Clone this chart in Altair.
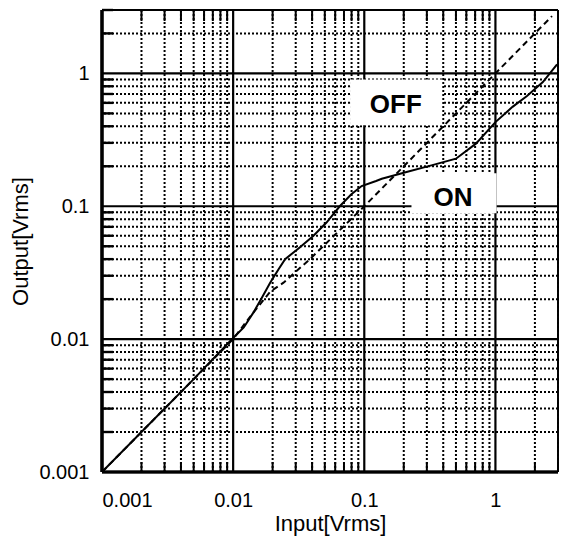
import altair as alt
import pandas as pd

# ---- data ----
on_x = [0.001, 0.002, 0.005, 0.01, 0.01205, 0.0143, 0.0166, 0.0192, 0.0222, 0.0249,
        0.0315, 0.0408, 0.0515, 0.065, 0.0797, 0.0955, 0.123, 0.136, 0.21, 0.325,
        0.5, 0.71, 1.0, 1.35, 1.74, 2.3, 2.95]
on_y = [0.001, 0.002, 0.005, 0.0102, 0.01225, 0.0159, 0.0206, 0.0267, 0.0336, 0.040,
        0.0481, 0.0598, 0.0754, 0.1, 0.123, 0.142, 0.155, 0.161, 0.181, 0.203,
        0.228, 0.296, 0.43, 0.56, 0.675, 0.86, 1.17]

off_x = [0.001, 0.01, 0.0135, 0.0192, 0.0242, 0.0385, 0.1, 1.0, 2.7]
off_y = [0.001, 0.01, 0.0148, 0.0228, 0.0266, 0.04, 0.1, 1.0, 2.7]

major_ticks = [0.001, 0.01, 0.1, 1]
minor_ticks = [0.002, 0.003, 0.004, 0.005, 0.006, 0.007, 0.008, 0.009,
               0.02, 0.03, 0.04, 0.05, 0.06, 0.07, 0.08, 0.09,
               0.2, 0.3, 0.4, 0.5, 0.6, 0.7, 0.8, 0.9,
               2, 3]

labels = ["OFF", "ON"]
label_x = [0.174, 0.475]
label_y = [0.575, 0.115]
box_x1 = [0.078, 0.229]
box_x2 = [0.392, 1.02]
box_y1 = [0.407, 0.0886]
box_y2 = [0.90, 0.177]

W, H = 456, 462
FONT = "Liberation Sans"

xs = alt.Scale(type="log", domain=[0.001, 3], nice=False)
ys = alt.Scale(type="log", domain=[0.001, 3], nice=False)

x_axis = alt.Axis(values=major_ticks, format="~g", ticks=False, domain=False, grid=False,
                  labelFontSize=20, labelFont=FONT, labelColor="black", labelPadding=18,
                  title="Input[Vrms]", titleFont=FONT, titleFontSize=22,
                  titleFontWeight="normal", titleColor="black", titlePadding=3)
y_axis = alt.Axis(values=major_ticks, format="~g", ticks=False, domain=False, grid=False,
                  labelFontSize=20, labelFont=FONT, labelColor="black", labelPadding=13,
                  title="Output[Vrms]", titleFont=FONT, titleFontSize=22,
                  titleFontWeight="normal", titleColor="black", titlePadding=6)


def X(field):
    return alt.X(field, scale=xs, axis=x_axis)


def Y(field):
    return alt.Y(field, scale=ys, axis=y_axis)


minor_df = pd.DataFrame({"v": minor_ticks})
major_df = pd.DataFrame({"v": major_ticks})

dot = dict(color="black", strokeWidth=2, strokeDash=[2, 2])
grid_minor_x = alt.Chart(minor_df).mark_rule(**dot).encode(x=X("v:Q"))
grid_minor_y = alt.Chart(minor_df).mark_rule(**dot).encode(y=Y("v:Q"))

grid_major_x = alt.Chart(major_df).mark_rule(color="black", strokeWidth=2.2).encode(x=X("v:Q"))
grid_major_y = alt.Chart(major_df).mark_rule(color="black", strokeWidth=2.2).encode(y=Y("v:Q"))

tick_bottom = alt.Chart(minor_df).mark_rule(color="black", strokeWidth=2).encode(
    x=X("v:Q"), y=alt.value(H), y2=alt.value(H - 10))
tick_top = alt.Chart(minor_df).mark_rule(color="black", strokeWidth=2).encode(
    x=X("v:Q"), y=alt.value(0), y2=alt.value(11))
tick_left = alt.Chart(minor_df).mark_rule(color="black", strokeWidth=2.4).encode(
    y=Y("v:Q"), x=alt.value(0), x2=alt.value(11))

edge_top = alt.Chart(major_df).mark_rule(color="black", strokeWidth=2).encode(y=alt.value(0))
edge_right = alt.Chart(major_df).mark_rule(color="black", strokeWidth=1.3).encode(x=alt.value(W))
edge_left = alt.Chart(major_df).mark_rule(color="black", strokeWidth=2.6).encode(x=alt.value(0))
edge_bottom = alt.Chart(major_df).mark_rule(color="black", strokeWidth=2.6).encode(y=alt.value(H))

lab_df = pd.DataFrame({"t": labels, "x": label_x, "y": label_y,
                       "x1": box_x1, "x2": box_x2, "y1": box_y1, "y2": box_y2})
boxes = alt.Chart(lab_df).mark_rect(color="white", opacity=1).encode(
    x=X("x1:Q"), x2="x2:Q", y=Y("y1:Q"), y2="y2:Q")
texts = alt.Chart(lab_df).mark_text(font=FONT, fontSize=26, fontWeight="bold", color="black",
                                    align="center", baseline="middle").encode(
    x=X("x:Q"), y=Y("y:Q"), text="t:N")

on_df = pd.DataFrame({"x": on_x, "y": on_y})
off_df = pd.DataFrame({"x": off_x, "y": off_y})
on_line = alt.Chart(on_df).mark_line(color="black", strokeWidth=2, clip=True).encode(
    x=X("x:Q"), y=Y("y:Q"), order="x:Q")
off_line = alt.Chart(off_df).mark_line(color="black", strokeWidth=2, strokeDash=[6, 4], clip=True).encode(
    x=X("x:Q"), y=Y("y:Q"), order="x:Q")

chart = alt.layer(
    grid_minor_x, grid_minor_y, grid_major_x, grid_major_y,
    boxes, tick_bottom, tick_top, tick_left,
    off_line, on_line, texts,
    edge_top, edge_right, edge_left, edge_bottom,
).properties(
    width=W, height=H,
    autosize=alt.AutoSizeParams(type="none"),
    padding={"left": 94, "top": 2, "right": 1, "bottom": 64},
).configure_view(stroke=None)

chart.save("out.html", embed_options={"renderer": "svg", "actions": False})
